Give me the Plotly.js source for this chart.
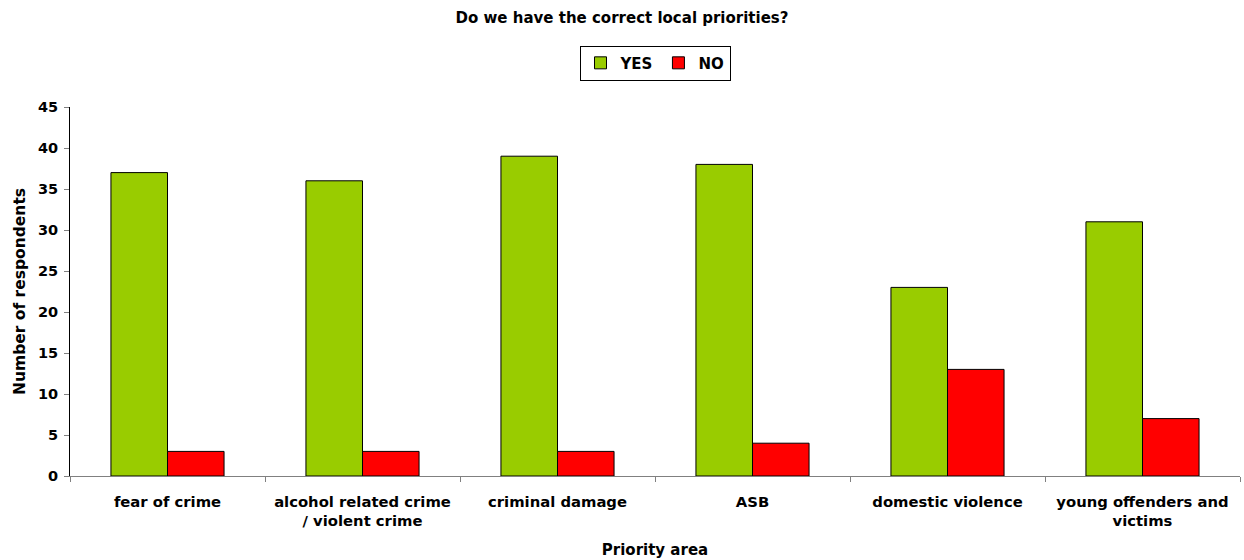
<!DOCTYPE html>
<html>
<head>
<meta charset="utf-8">
<script src="https://cdn.plot.ly/plotly-3.0.1.min.js"></script>
<style>html,body{margin:0;padding:0;background:#fff;}#chart{width:1244px;height:560px;}</style>
</head>
<body>
<div id="chart"></div>
<script>
var categories = ["fear of crime", "alcohol related crime<br>/ violent crime", "criminal damage", "ASB", "domestic violence", "young offenders and<br>victims"];
var yesValues = [37, 36, 39, 38, 23, 31];
var noValues = [3, 3, 3, 4, 13, 7];
var yTicks = [0, 5, 10, 15, 20, 25, 30, 35, 40, 45];

var fontFamily = "DejaVu Sans, Verdana, sans-serif";
var data = [
  {type: "bar", name: "<b>YES</b>", x: categories, y: yesValues,
   marker: {color: "#99cc00", line: {color: "#000", width: 1}}},
  {type: "bar", name: "<b>NO</b>", x: categories, y: noValues,
   marker: {color: "#ff0000", line: {color: "#000", width: 1}}}
];
var layout = {
  width: 1244, height: 560,
  margin: {l: 70, r: 4, t: 107, b: 84},
  paper_bgcolor: "#fff", plot_bgcolor: "#fff",
  font: {family: fontFamily, color: "#000", size: 14},
  title: {text: "<b>Do we have the correct local priorities?</b>", x: 0.5, xanchor: "center", y: 0.968, yanchor: "middle", font: {size: 15, family: fontFamily}},
  barmode: "group", bargap: 0.42, bargroupgap: 0,
  showlegend: true,
  legend: {orientation: "h", x: 0.5, xanchor: "center", xref: "paper", y: 1.119, yanchor: "middle",
           bordercolor: "#000", borderwidth: 1, font: {size: 15, family: fontFamily}, itemwidth: 30, traceorder: "normal"},
  xaxis: {type: "category", tickson: "boundaries", ticks: "outside", ticklen: 5, tickcolor: "#808080",
          showline: true, linecolor: "#808080", linewidth: 1, showgrid: false, zeroline: false,
          ticklabelstandoff: 12,
          tickfont: {size: 14.8, family: fontFamily},
          title: {text: "<b>Priority area</b>", font: {size: 15, family: fontFamily}, standoff: 16}},
  yaxis: {range: [0, 45], tickvals: yTicks, ticks: "outside", ticklen: 5, tickcolor: "#808080",
          showline: true, linecolor: "#000", linewidth: 1, showgrid: false, zeroline: false,
          ticklabelstandoff: 3,
          tickfont: {size: 14.5, family: fontFamily},
          title: {text: "<b>Number of respondents</b>", font: {size: 15.5, family: fontFamily}, standoff: 8}}
};
layout.xaxis.ticktext = categories.map(function(c){return "<b>" + c + "</b>";});
layout.xaxis.tickvals = categories;
layout.yaxis.ticktext = yTicks.map(function(v){return "<b>" + v + "</b>";});
Plotly.newPlot("chart", data, layout, {displayModeBar: false, staticPlot: true});
</script>
</body>
</html>
